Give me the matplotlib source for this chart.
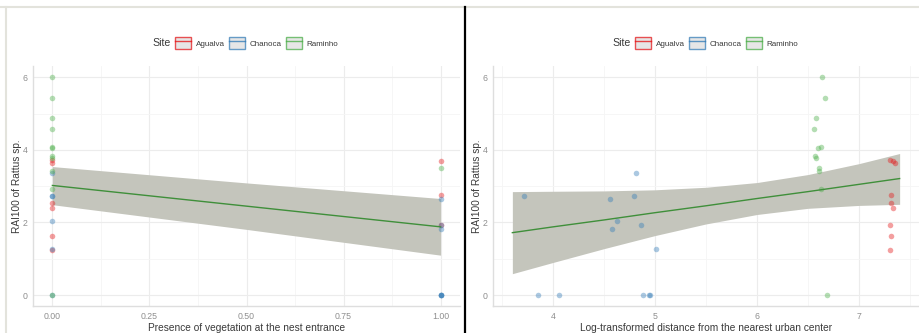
#%% Library
import numpy as np
import matplotlib.pyplot as plt
from matplotlib.patches import Patch
from matplotlib.lines import Line2D
from matplotlib.ticker import MultipleLocator

plt.rcParams['font.family'] = ['Liberation Sans', 'DejaVu Sans']

#%% data
sites = ['Agualva', 'Chanoca', 'Raminho']
site_colors = ['#E41A1C', '#377EB8', '#4DAF4A']

agualva_veg = [0, 1, 0, 1, 0, 0, 1, 0, 0]
agualva_dist = [7.31, 7.33, 7.35, 7.32, 7.32, 7.33, 7.31, 7.32, 7.31]
agualva_rai = [3.73, 3.68, 3.65, 2.77, 2.54, 2.40, 1.94, 1.63, 1.23]

chanoca_veg = [0, 0, 1, 1, 1, 0, 0, 0, 1, 1, 1, 1, 0]
chanoca_dist = [3.71, 3.85, 4.06, 4.56, 4.58, 4.63, 4.79, 4.81, 4.86, 4.88, 4.94, 4.95, 5.01]
chanoca_rai = [2.72, 0, 0, 2.66, 1.81, 2.03, 2.72, 3.36, 1.92, 0, 0, 0, 1.28]

raminho_veg = [0, 0, 0, 0, 0, 0, 0, 0, 1, 0, 0, 0]
raminho_dist = [6.64, 6.67, 6.58, 6.56, 6.60, 6.63, 6.57, 6.58, 6.61, 6.61, 6.63, 6.69]
raminho_rai = [6.00, 5.44, 4.88, 4.58, 4.06, 4.09, 3.84, 3.77, 3.50, 3.41, 2.92, 0]

# fitted line + confidence band
veg_grid = [0, 0.5, 1]
veg_fit = [3.02, 2.45, 1.88]
veg_lo = [2.49, 1.81, 1.10]
veg_hi = [3.54, 3.09, 2.66]

dist_grid = [3.6, 4.0, 4.5, 5.0, 5.5, 6.0, 6.5, 7.0, 7.4]
dist_fit = [1.72, 1.88, 2.07, 2.27, 2.46, 2.66, 2.85, 3.05, 3.21]
dist_lo = [0.59, 0.90, 1.28, 1.64, 1.96, 2.22, 2.39, 2.47, 2.50]
dist_hi = [2.85, 2.86, 2.87, 2.90, 2.97, 3.10, 3.32, 3.62, 3.90]

veg_ticks = [0.00, 0.25, 0.50, 0.75, 1.00]
dist_ticks = [4, 5, 6, 7]
rai_ticks = [0, 2, 4, 6]

veg_data = [agualva_veg, chanoca_veg, raminho_veg]
dist_data = [agualva_dist, chanoca_dist, raminho_dist]
rai_data = [agualva_rai, chanoca_rai, raminho_rai]

#%% figure
W, H = 919, 333
fig = plt.figure(figsize=(W / 100, H / 100), dpi=100)

def px(x0, y0, x1, y1):
    return [x0 / W, 1 - y1 / H, (x1 - x0) / W, (y1 - y0) / H]

def panel(ax, xs, grid, fit, lo, hi, xlab, xticks, fmt, minor):
    for x, y, c in zip(xs, rai_data, site_colors):
        ax.scatter(x, y, s=16, color=c, alpha=0.42, linewidths=0, zorder=3)
    ax.fill_between(grid, lo, hi, color='#c4c5bc', lw=0, zorder=2)
    ax.plot(grid, fit, color='#3f8f3a', lw=1.0, zorder=4)

    ax.set_xticks(xticks)
    ax.set_xticklabels([fmt(t) for t in xticks])
    ax.xaxis.set_minor_locator(MultipleLocator(minor))
    ax.set_yticks(rai_ticks)
    ax.yaxis.set_minor_locator(MultipleLocator(1))
    ax.set_ylim(-0.30, 6.31)
    ax.grid(which='major', color='#ececec', lw=0.8)
    ax.grid(which='minor', color='#f5f5f5', lw=0.6)
    ax.set_axisbelow(True)
    ax.tick_params(which='both', length=0, labelsize=6.3, labelcolor='#8f8f8f', pad=4)
    for s in ['top', 'right']:
        ax.spines[s].set_visible(False)
    for s in ['left', 'bottom']:
        ax.spines[s].set_color('#dedede')
        ax.spines[s].set_linewidth(1.0)
    ax.set_xlabel(xlab, fontsize=7.3, color='#3a3a3a', labelpad=1.5)
    ax.set_ylabel('RAI100 of Rattus sp.', fontsize=7.3, color='#3a3a3a', labelpad=0)

ax1 = fig.add_axes(px(33, 66, 460, 306))
panel(ax1, veg_data, veg_grid, veg_fit, veg_lo, veg_hi,
      'Presence of vegetation at the nest entrance', veg_ticks,
      lambda t: f'{t:.2f}', 0.125)
ax1.set_xlim(-0.05, 1.05)

ax2 = fig.add_axes(px(493, 66, 919, 306))
panel(ax2, dist_data, dist_grid, dist_fit, dist_lo, dist_hi,
      'Log-transformed distance from the nearest urban center', dist_ticks,
      lambda t: f'{t:d}', 0.5)
ax2.set_xlim(3.41, 7.59)

#%% legends
handles = [(Patch(facecolor='#dedede', edgecolor=c, lw=1.0, alpha=0.75),
            Line2D([], [], color=c, lw=1.0, alpha=0.8)) for c in site_colors]
for x0 in [152, 612]:
    fig.text(x0 / W, 1 - 43 / H, 'Site', fontsize=7.6, color='#3a3a3a',
             ha='left', va='center')
    fig.legend(handles, sites, loc='center left', ncol=3,
               bbox_to_anchor=((x0 + 23) / W, 1 - 43 / H),
               frameon=False, fontsize=5.8, labelcolor='#3a3a3a',
               handlelength=2.0, handleheight=2.0, handletextpad=0.55,
               columnspacing=0.55, borderpad=0, borderaxespad=0)

#%% frame
fig.add_artist(Line2D([0, 1], [1 - 7 / H] * 2, color='#e3e3dc', lw=1.5))
fig.add_artist(Line2D([6 / W] * 2, [0, 1 - 7 / H], color='#e3e3dc', lw=1.5))
fig.add_artist(Line2D([465 / W] * 2, [0, 1 - 7 / H], color='black', lw=1.6))

fig.savefig('out.png', dpi=100)
